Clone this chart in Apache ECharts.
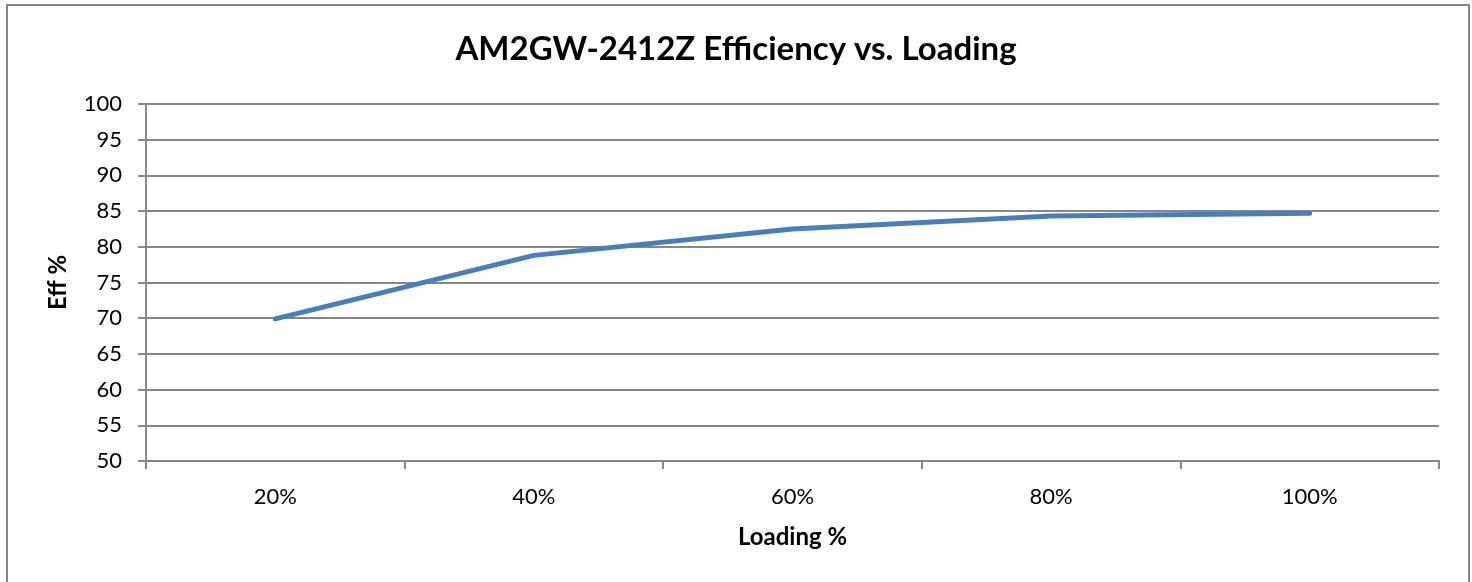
<!DOCTYPE html>
<html>
  <head>
    <meta charset="utf-8" />
    <title>AM2GW-2412Z Efficiency</title>
    <script src="https://cdn.jsdelivr.net/npm/echarts@6/dist/echarts.min.js"></script>
    <style>
      html, body { margin: 0; padding: 0; background: #fff; }
      #chart-container { width: 1472px; height: 582px; }
    </style>
  </head>
  <body>
    <div id="chart-container"></div>
    <script type="text/javascript">
      const loadings = ['20%', '40%', '60%', '80%', '100%'];
      const efficiency = [69.9, 78.8, 82.5, 84.3, 84.7];
      const yTicks = { min: 50, max: 100, interval: 5 };

      const font = 'Lato, "Open Sans", sans-serif';
      const gray = '#878787';

      const myChart = echarts.init(document.getElementById('chart-container'), null, { renderer: 'canvas' });

      myChart.setOption({
        animation: false,
        backgroundColor: '#fff',
        graphic: [
          {
            type: 'rect',
            shape: { x: 7, y: 5, width: 1462, height: 600 },
            style: { fill: 'none', stroke: gray, lineWidth: 2 },
            silent: true
          }
        ],
        title: {
          text: 'AM2GW-2412Z Efficiency vs. Loading',
          left: 'center',
          top: 28,
          textStyle: { fontFamily: font, fontSize: 33, fontWeight: 'bold', color: '#000' }
        },
        grid: { left: 146, top: 104, right: 33, bottom: 121 },
        xAxis: {
          type: 'category',
          data: loadings,
          boundaryGap: true,
          name: 'Loading %',
          nameLocation: 'middle',
          nameGap: 64,
          nameTextStyle: { fontFamily: font, fontSize: 24, fontWeight: 'bold', color: '#000' },
          axisLine: { lineStyle: { color: gray, width: 2 } },
          axisTick: { show: true, length: 8, alignWithLabel: false, lineStyle: { color: gray, width: 2 } },
          axisLabel: { margin: 25, fontFamily: font, fontSize: 22, color: '#000' },
          splitLine: { show: false }
        },
        yAxis: {
          type: 'value',
          min: yTicks.min,
          max: yTicks.max,
          interval: yTicks.interval,
          name: 'Eff %',
          nameLocation: 'middle',
          nameGap: 76,
          nameRotate: 90,
          nameTextStyle: { fontFamily: font, fontSize: 24, fontWeight: 'bold', color: '#000' },
          axisLine: { show: true, lineStyle: { color: gray, width: 2 } },
          axisTick: { show: true, length: 8, lineStyle: { color: gray, width: 2 } },
          axisLabel: { margin: 24, fontFamily: font, fontSize: 22, color: '#000' },
          splitLine: { lineStyle: { color: gray, width: 2 } }
        },
        series: [
          {
            type: 'line',
            data: efficiency,
            symbol: 'none',
            lineStyle: { color: '#4a7ebb', width: 5, cap: 'round', join: 'round' },
            itemStyle: { color: '#4a7ebb' }
          }
        ]
      });
    </script>
  </body>
</html>
